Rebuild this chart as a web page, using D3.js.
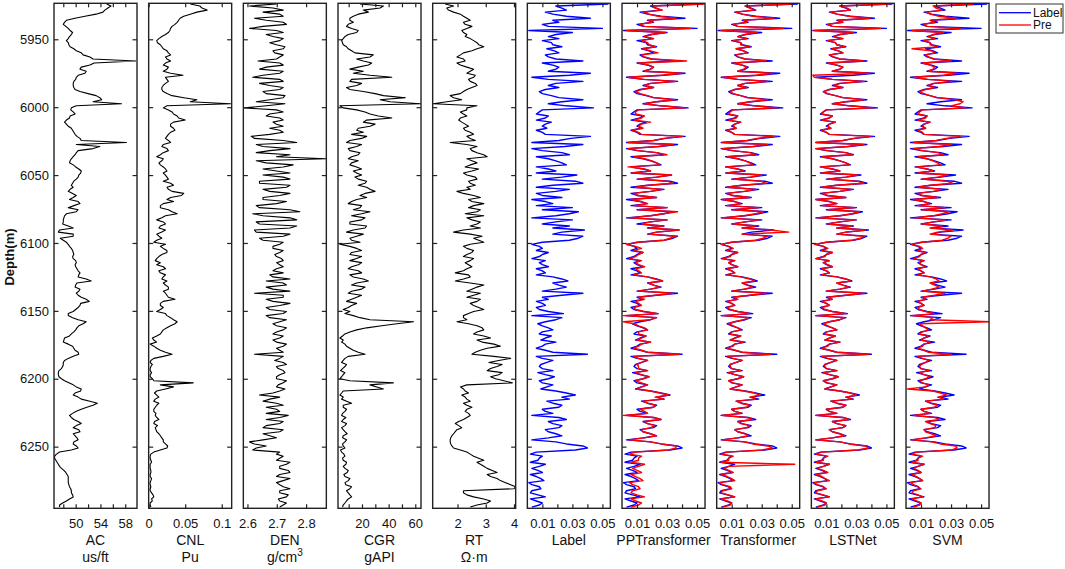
<!DOCTYPE html>
<html lang="en">
<head>
<meta charset="UTF-8">
<title>Well logs and predictions</title>
<script src="https://d3js.org/d3.v7.min.js"></script>
<style>
  body { margin: 0; background: #fff; }
  svg { font-family: "Liberation Sans", Arial, sans-serif; }
</style>
</head>
<body>
<div id="chart"></div>
<script>
// sampled depths (m), 1.5 m apart
const depth = [
  5924,5925.5,5927,5928.5,5930,5931.5,5933,5934.5,5936,5937.5,
  5939,5940.5,5942,5943.5,5945,5946.5,5948,5949.5,5951,5952.5,
  5954,5955.5,5957,5958.5,5960,5961.5,5963,5964.5,5966,5967.5,
  5969,5970.5,5972,5973.5,5975,5976.5,5978,5979.5,5981,5982.5,
  5984,5985.5,5987,5988.5,5990,5991.5,5993,5994.5,5996,5997.5,
  5999,6000.5,6002,6003.5,6005,6006.5,6008,6009.5,6011,6012.5,
  6014,6015.5,6017,6018.5,6020,6021.5,6023,6024.5,6026,6027.5,
  6029,6030.5,6032,6033.5,6035,6036.5,6038,6039.5,6041,6042.5,
  6044,6045.5,6047,6048.5,6050,6051.5,6053,6054.5,6056,6057.5,
  6059,6060.5,6062,6063.5,6065,6066.5,6068,6069.5,6071,6072.5,
  6074,6075.5,6077,6078.5,6080,6081.5,6083,6084.5,6086,6087.5,
  6089,6090.5,6092,6093.5,6095,6096.5,6098,6099.5,6101,6102.5,
  6104,6105.5,6107,6108.5,6110,6111.5,6113,6114.5,6116,6117.5,
  6119,6120.5,6122,6123.5,6125,6126.5,6128,6129.5,6131,6132.5,
  6134,6135.5,6137,6138.5,6140,6141.5,6143,6144.5,6146,6147.5,
  6149,6150.5,6152,6153.5,6155,6156.5,6158,6159.5,6161,6162.5,
  6164,6165.5,6167,6168.5,6170,6171.5,6173,6174.5,6176,6177.5,
  6179,6180.5,6182,6183.5,6185,6186.5,6188,6189.5,6191,6192.5,
  6194,6195.5,6197,6198.5,6200,6201.5,6203,6204.5,6206,6207.5,
  6209,6210.5,6212,6213.5,6215,6216.5,6218,6219.5,6221,6222.5,
  6224,6225.5,6227,6228.5,6230,6231.5,6233,6234.5,6236,6237.5,
  6239,6240.5,6242,6243.5,6245,6246.5,6248,6249.5,6251,6252.5,
  6254,6255.5,6257,6258.5,6260,6261.5,6263,6264.5,6266,6267.5,
  6269,6270.5,6272,6273.5,6275,6276.5,6278,6279.5,6281,6282.5,
  6284,6285.5,6287,6288.5,6290,6291.5,6293,6294.5];

const acVals = [
  55.0,55.7,55.2,54.7,54.4,53.3,51.5,49.9,48.5,48.2,
  48.0,48.4,48.8,49.1,49.5,49.3,49.0,48.8,48.5,48.8,
  48.9,49.1,49.7,50.1,50.9,51.2,52.3,52.8,59.7,53.0,
  52.3,50.9,50.7,51.7,51.5,50.4,50.1,50.0,49.7,49.6,
  49.6,49.7,49.9,50.7,52.0,53.3,53.9,54.2,52.8,57.4,
  50.1,49.3,49.2,49.6,49.9,49.1,49.0,48.5,48.2,48.5,
  48.8,49.3,49.5,49.7,49.9,50.2,50.7,50.9,58.2,50.1,
  53.9,52.8,50.4,50.1,49.9,49.6,49.3,49.1,49.0,49.6,
  50.0,50.5,50.9,50.8,50.5,50.4,50.1,49.7,49.5,49.3,
  49.6,49.1,48.8,49.5,50.1,49.6,49.0,50.4,50.7,49.7,
  48.8,50.4,50.1,48.5,48.2,48.1,48.0,48.0,47.9,48.8,
  49.6,47.4,47.2,49.6,49.6,47.5,48.0,48.5,48.8,49.0,
  49.3,49.5,49.6,49.7,49.5,49.6,50.0,50.1,49.9,50.0,
  50.2,50.4,50.7,50.5,50.4,51.7,52.5,50.2,50.0,49.9,
  50.7,50.5,50.1,50.4,50.9,51.7,52.2,50.8,50.7,50.4,
  50.0,49.6,48.8,48.8,49.5,50.4,51.7,51.2,50.5,50.2,
  50.0,49.7,49.3,49.0,48.2,48.1,48.0,48.8,49.5,49.7,
  49.9,50.4,50.5,49.6,48.8,48.2,48.0,48.0,47.9,47.7,
  47.3,47.2,47.2,47.3,47.7,48.2,48.9,49.6,50.1,50.9,
  50.8,49.9,49.6,50.4,50.9,52.3,53.5,52.8,51.8,50.9,
  50.1,49.5,49.0,49.3,49.7,50.4,50.9,50.1,49.6,50.5,
  50.7,49.6,49.9,50.2,50.4,49.7,49.6,50.1,50.4,49.3,
  47.4,46.9,46.6,46.6,46.8,47.0,47.2,47.4,47.7,48.1,
  48.4,48.6,48.8,48.8,48.8,48.8,48.9,49.0,49.2,49.3,
  49.3,49.5,49.6,49.0,48.5,47.9,47.4,47.4];

const cnlVals = [
  0.057,0.070,0.073,0.080,0.066,0.057,0.048,0.043,0.041,0.039,
  0.036,0.032,0.030,0.029,0.027,0.023,0.018,0.014,0.011,0.012,
  0.016,0.018,0.020,0.025,0.027,0.030,0.023,0.025,0.030,0.023,
  0.020,0.027,0.025,0.020,0.030,0.047,0.023,0.025,0.027,0.023,
  0.020,0.018,0.018,0.020,0.025,0.032,0.048,0.066,0.057,0.112,
  0.025,0.020,0.027,0.032,0.034,0.039,0.041,0.050,0.034,0.030,
  0.030,0.034,0.036,0.030,0.027,0.025,0.023,0.027,0.030,0.020,
  0.018,0.025,0.027,0.020,0.016,0.011,0.020,0.018,0.014,0.016,
  0.020,0.023,0.025,0.020,0.023,0.025,0.027,0.020,0.030,0.034,
  0.025,0.027,0.032,0.048,0.045,0.030,0.025,0.034,0.020,0.016,
  0.016,0.027,0.032,0.039,0.023,0.018,0.011,0.020,0.023,0.016,
  0.014,0.023,0.018,0.011,0.014,0.018,0.011,0.007,0.023,0.016,
  0.020,0.025,0.025,0.018,0.014,0.011,0.009,0.016,0.011,0.020,
  0.023,0.014,0.016,0.023,0.020,0.018,0.025,0.020,0.023,0.027,
  0.027,0.020,0.023,0.025,0.027,0.036,0.020,0.016,0.016,0.020,
  0.016,0.011,0.023,0.025,0.030,0.034,0.039,0.036,0.030,0.025,
  0.020,0.018,0.016,0.011,0.005,0.007,0.011,0.002,0.007,0.011,
  0.016,0.023,0.032,0.020,0.007,0.003,0.002,0.005,0.003,0.002,
  0.002,0.004,0.002,0.002,0.005,0.007,0.061,0.016,0.034,0.023,
  0.011,0.008,0.011,0.014,0.009,0.007,0.014,0.011,0.009,0.007,
  0.007,0.010,0.009,0.011,0.014,0.008,0.007,0.012,0.009,0.010,
  0.011,0.014,0.016,0.018,0.020,0.020,0.023,0.026,0.025,0.016,
  0.007,0.003,0.002,0.002,0.003,0.004,0.002,0.002,0.002,0.003,
  0.003,0.002,0.002,0.004,0.003,0.002,0.002,0.003,0.002,0.002,
  0.004,0.006,0.007,0.004,0.005,0.002,0.002,0.003];

const denVals = [
  2.699,2.607,2.687,2.722,2.653,2.710,2.722,2.624,2.664,2.722,
  2.733,2.653,2.607,2.699,2.722,2.664,2.687,2.722,2.710,2.676,
  2.699,2.728,2.722,2.687,2.693,2.722,2.710,2.699,2.636,2.710,
  2.722,2.664,2.641,2.722,2.710,2.653,2.618,2.710,2.722,2.641,
  2.676,2.722,2.710,2.653,2.664,2.728,2.722,2.676,2.630,2.728,
  2.664,2.590,2.699,2.722,2.676,2.664,2.710,2.722,2.687,2.699,
  2.722,2.676,2.710,2.722,2.676,2.613,2.624,2.722,2.768,2.630,
  2.653,2.745,2.676,2.630,2.745,2.699,2.868,2.630,2.664,2.756,
  2.722,2.653,2.699,2.745,2.653,2.722,2.745,2.641,2.641,2.745,
  2.733,2.653,2.676,2.745,2.710,2.653,2.653,2.733,2.699,2.630,
  2.641,2.745,2.779,2.618,2.653,2.745,2.768,2.630,2.641,2.768,
  2.745,2.624,2.630,2.745,2.722,2.641,2.653,2.722,2.710,2.687,
  2.687,2.722,2.710,2.693,2.699,2.716,2.722,2.699,2.710,2.722,
  2.699,2.687,2.722,2.676,2.687,2.745,2.664,2.722,2.733,2.664,
  2.687,2.745,2.624,2.722,2.722,2.664,2.687,2.745,2.710,2.664,
  2.676,2.733,2.722,2.664,2.676,2.733,2.710,2.687,2.699,2.733,
  2.722,2.699,2.687,2.722,2.710,2.687,2.699,2.733,2.722,2.699,
  2.710,2.722,2.624,2.722,2.710,2.693,2.722,2.733,2.699,2.705,
  2.722,2.728,2.710,2.699,2.699,2.733,2.722,2.705,2.699,2.728,
  2.710,2.687,2.641,2.710,2.676,2.653,2.699,2.722,2.664,2.699,
  2.710,2.664,2.739,2.710,2.664,2.722,2.710,2.664,2.653,2.722,
  2.710,2.653,2.676,2.699,2.653,2.607,2.624,2.664,2.630,2.618,
  2.710,2.699,2.722,2.710,2.699,2.745,2.733,2.710,2.710,2.739,
  2.745,2.710,2.699,2.745,2.722,2.699,2.710,2.722,2.745,2.710,
  2.710,2.739,2.733,2.705,2.710,2.733,2.722,2.710];

const cgrVals = [
  18.5,36.1,33.6,21.0,24.8,17.2,13.5,10.9,10.9,13.5,
  9.7,8.4,12.2,17.2,16.0,9.7,7.2,5.9,4.7,5.4,
  5.9,8.4,9.7,12.2,14.7,28.5,26.0,16.0,21.0,27.3,
  24.8,17.2,10.9,21.0,13.5,26.0,42.4,12.2,10.9,19.7,
  16.0,8.4,10.9,21.0,29.8,36.1,52.5,33.6,41.1,64.0,
  3.4,5.9,16.0,22.3,26.0,32.3,42.4,23.5,21.0,29.8,
  26.0,17.2,16.0,21.0,12.2,23.5,19.7,10.9,8.4,19.7,
  16.0,9.7,10.9,18.5,17.2,12.2,9.7,17.2,12.2,10.9,
  16.0,19.7,13.5,16.0,19.7,14.7,17.2,23.5,22.3,17.2,
  23.5,26.0,29.8,22.3,18.5,23.5,16.0,12.2,9.7,19.7,
  18.5,13.5,26.0,19.7,12.2,22.3,19.7,10.9,10.9,23.5,
  22.3,13.5,8.4,21.0,16.0,10.9,12.2,18.5,3.4,10.9,
  16.0,19.7,12.2,10.9,19.7,16.0,10.9,19.7,17.2,12.2,
  9.7,17.2,19.7,10.9,13.5,21.0,24.8,16.0,12.2,22.3,
  19.7,12.2,9.7,19.7,16.0,12.2,8.4,16.0,12.2,9.7,
  5.9,10.9,7.2,13.5,18.5,26.0,58.7,46.2,34.8,23.5,
  16.0,10.9,7.2,5.4,3.4,5.9,4.7,7.2,8.4,10.9,
  13.5,17.2,22.3,9.7,7.2,5.9,4.7,8.4,7.2,5.4,
  3.9,7.2,5.9,4.7,3.4,10.9,43.6,26.0,31.1,36.1,
  5.9,4.7,3.4,5.9,4.7,8.4,12.2,5.9,5.9,8.4,
  7.2,5.4,4.7,7.9,5.9,4.7,8.4,7.2,4.7,5.9,
  7.2,8.9,5.9,5.4,8.4,7.2,5.4,5.9,7.2,3.9,
  4.7,6.4,7.2,5.4,5.9,8.4,7.9,5.9,7.2,9.7,
  8.9,6.4,7.2,10.9,9.7,7.2,7.9,12.2,10.9,8.4,
  9.7,10.9,12.2,9.7,8.4,7.2,5.9,5.4];

const rtVals = [
  1.56,1.86,1.62,1.68,1.86,2.10,2.21,2.33,2.45,2.21,
  2.27,2.51,2.33,2.15,2.21,2.33,2.27,2.45,2.57,2.69,
  2.75,2.93,2.69,2.51,2.21,2.10,1.98,2.21,2.27,1.98,
  2.10,2.33,2.57,2.45,2.33,2.63,2.57,2.39,2.45,2.63,
  2.69,2.51,2.33,2.21,2.10,1.74,1.86,2.15,1.62,1.14,
  2.69,2.33,2.33,2.10,2.21,2.33,2.10,2.04,2.15,2.27,
  2.39,2.21,2.27,2.45,2.57,2.33,2.45,2.63,1.74,2.33,
  2.69,2.45,2.51,2.69,2.93,3.05,2.33,2.51,2.69,2.45,
  2.27,2.75,2.51,2.21,2.33,2.63,2.69,2.39,2.45,2.63,
  2.33,2.45,1.98,2.21,2.57,2.81,2.39,2.51,2.93,2.57,
  2.39,2.81,2.69,2.27,2.93,2.33,2.51,2.81,2.69,2.45,
  2.81,2.21,1.86,2.45,2.87,2.57,2.75,2.93,2.45,2.21,
  2.33,2.57,2.51,2.33,2.21,2.57,2.45,2.27,2.39,2.51,
  2.33,2.21,1.92,2.39,2.45,2.21,1.92,2.45,2.93,2.69,
  2.51,2.33,2.81,2.57,2.33,2.81,2.69,2.45,2.57,2.75,
  2.93,2.57,2.39,2.21,2.21,2.33,1.98,2.39,2.69,2.87,
  2.93,2.69,2.57,2.93,3.17,2.69,2.87,3.29,3.52,3.05,
  2.81,2.63,2.51,3.29,3.88,3.46,3.11,3.58,3.40,3.17,
  3.05,3.58,3.46,3.17,3.35,3.64,3.94,2.33,2.10,2.21,
  2.27,2.39,2.15,2.27,2.33,2.45,2.21,2.33,2.51,2.33,
  2.27,2.39,2.45,2.33,2.21,2.04,1.92,2.04,2.15,1.98,
  1.92,1.86,1.80,1.76,1.74,1.74,1.76,1.80,1.86,2.10,
  2.33,2.45,2.57,2.75,2.93,2.69,2.81,2.93,3.05,3.23,
  3.40,3.05,3.17,3.40,3.52,3.70,3.88,4.06,4.00,2.21,
  2.21,2.33,2.57,2.93,3.17,3.05,2.69,2.45];

// target curve (Label) and model predictions (Pre)
const labelVals = [
  0.054,0.019,0.023,0.026,0.012,0.017,0.026,0.042,0.017,0.021,
  0.010,0.014,0.050,0.001,0.030,0.019,0.014,0.021,0.010,0.016,
  0.017,0.023,0.013,0.018,0.021,0.012,0.014,0.019,0.037,0.010,
  0.017,0.021,0.019,0.014,0.042,0.028,0.003,0.014,0.037,0.019,
  0.014,0.021,0.012,0.008,0.010,0.016,0.021,0.037,0.023,0.014,
  0.026,0.044,0.010,0.008,0.006,0.014,0.012,0.006,0.016,0.012,
  0.010,0.013,0.006,0.010,0.012,0.042,0.029,0.021,0.003,0.037,
  0.025,0.003,0.010,0.023,0.028,0.006,0.014,0.019,0.023,0.026,
  0.006,0.014,0.019,0.006,0.033,0.023,0.010,0.032,0.037,0.017,
  0.006,0.028,0.019,0.006,0.010,0.023,0.003,0.012,0.017,0.006,
  0.030,0.010,0.034,0.028,0.019,0.003,0.030,0.019,0.010,0.028,
  0.017,0.038,0.023,0.017,0.037,0.034,0.028,0.010,0.003,0.008,
  0.010,0.006,0.014,0.010,0.008,0.003,0.012,0.008,0.010,0.014,
  0.006,0.010,0.012,0.006,0.017,0.023,0.027,0.017,0.021,0.026,
  0.019,0.010,0.037,0.023,0.010,0.014,0.006,0.010,0.012,0.006,
  0.008,0.014,0.024,0.003,0.023,0.019,0.012,0.007,0.010,0.014,
  0.017,0.010,0.008,0.016,0.012,0.009,0.019,0.012,0.010,0.006,
  0.012,0.017,0.040,0.006,0.010,0.017,0.013,0.009,0.008,0.010,
  0.017,0.007,0.012,0.018,0.014,0.008,0.010,0.017,0.013,0.009,
  0.019,0.026,0.032,0.023,0.028,0.013,0.017,0.023,0.021,0.010,
  0.012,0.017,0.003,0.021,0.026,0.014,0.017,0.023,0.021,0.012,
  0.014,0.019,0.023,0.014,0.003,0.019,0.026,0.037,0.040,0.032,
  0.006,0.002,0.010,0.008,0.007,0.002,0.012,0.008,0.003,0.007,
  0.010,0.002,0.006,0.009,0.011,0.001,0.003,0.008,0.009,0.003,
  0.002,0.007,0.012,0.002,0.006,0.010,0.008,0.003];

const ppTransformerVals = [
  0.055,0.020,0.022,0.027,0.015,0.018,0.024,0.036,0.018,0.020,
  0.012,0.015,0.046,0.003,0.029,0.020,0.015,0.021,0.013,0.017,
  0.018,0.022,0.014,0.019,0.024,0.013,0.015,0.020,0.043,0.011,
  0.018,0.021,0.019,0.015,0.040,0.026,0.004,0.015,0.036,0.019,
  0.015,0.021,0.013,0.009,0.012,0.017,0.021,0.035,0.023,0.015,
  0.026,0.042,0.011,0.009,0.009,0.015,0.013,0.008,0.019,0.013,
  0.011,0.014,0.007,0.011,0.013,0.040,0.028,0.021,0.004,0.034,
  0.024,0.004,0.011,0.023,0.030,0.008,0.015,0.020,0.023,0.025,
  0.004,0.015,0.019,0.007,0.033,0.023,0.011,0.030,0.034,0.018,
  0.009,0.027,0.019,0.008,0.011,0.023,0.006,0.013,0.017,0.008,
  0.030,0.011,0.037,0.027,0.019,0.005,0.030,0.019,0.013,0.027,
  0.018,0.038,0.023,0.018,0.036,0.032,0.028,0.011,0.003,0.009,
  0.013,0.008,0.014,0.011,0.009,0.005,0.013,0.009,0.011,0.015,
  0.009,0.011,0.013,0.008,0.017,0.022,0.027,0.018,0.021,0.025,
  0.019,0.011,0.034,0.022,0.011,0.015,0.009,0.011,0.013,0.008,
  0.009,0.015,0.024,0.001,0.023,0.019,0.001,0.008,0.011,0.015,
  0.017,0.011,0.011,0.016,0.013,0.010,0.019,0.013,0.011,0.008,
  0.013,0.017,0.038,0.008,0.011,0.017,0.013,0.010,0.011,0.011,
  0.017,0.009,0.013,0.018,0.014,0.009,0.013,0.017,0.013,0.010,
  0.019,0.025,0.031,0.022,0.028,0.014,0.017,0.022,0.021,0.012,
  0.015,0.017,0.001,0.021,0.026,0.015,0.017,0.022,0.019,0.013,
  0.014,0.019,0.023,0.015,0.005,0.019,0.026,0.036,0.036,0.031,
  0.009,0.005,0.013,0.011,0.011,0.006,0.015,0.011,0.007,0.010,
  0.013,0.006,0.009,0.012,0.014,0.005,0.007,0.011,0.012,0.007,
  0.006,0.010,0.015,0.006,0.009,0.013,0.011,0.006];

const transformerVals = [
  0.050,0.019,0.022,0.025,0.013,0.017,0.024,0.038,0.018,0.020,
  0.011,0.014,0.044,0.003,0.027,0.019,0.014,0.020,0.011,0.016,
  0.016,0.022,0.013,0.018,0.020,0.013,0.014,0.019,0.033,0.011,
  0.017,0.020,0.018,0.014,0.037,0.026,0.004,0.014,0.034,0.019,
  0.014,0.020,0.012,0.009,0.011,0.016,0.020,0.034,0.022,0.014,
  0.025,0.040,0.011,0.009,0.008,0.014,0.013,0.008,0.016,0.012,
  0.011,0.013,0.007,0.010,0.012,0.038,0.027,0.020,0.004,0.034,
  0.024,0.004,0.011,0.022,0.026,0.007,0.014,0.019,0.022,0.024,
  0.006,0.014,0.018,0.007,0.030,0.022,0.011,0.029,0.033,0.017,
  0.007,0.026,0.018,0.007,0.011,0.022,0.004,0.012,0.016,0.007,
  0.028,0.011,0.031,0.026,0.018,0.004,0.028,0.019,0.011,0.026,
  0.017,0.036,0.048,0.017,0.034,0.031,0.026,0.010,0.003,0.008,
  0.011,0.007,0.014,0.010,0.009,0.004,0.012,0.008,0.010,0.014,
  0.007,0.010,0.012,0.007,0.016,0.022,0.025,0.017,0.020,0.024,
  0.018,0.010,0.033,0.022,0.011,0.014,0.007,0.010,0.012,0.007,
  0.009,0.014,0.022,0.004,0.021,0.018,0.012,0.008,0.011,0.014,
  0.016,0.010,0.009,0.016,0.012,0.009,0.018,0.012,0.011,0.007,
  0.012,0.017,0.036,0.007,0.011,0.017,0.013,0.009,0.009,0.010,
  0.016,0.008,0.012,0.018,0.014,0.008,0.011,0.017,0.013,0.009,
  0.018,0.025,0.029,0.022,0.026,0.013,0.016,0.022,0.020,0.010,
  0.012,0.017,0.003,0.020,0.024,0.014,0.016,0.022,0.020,0.012,
  0.014,0.019,0.021,0.014,0.004,0.018,0.024,0.034,0.037,0.030,
  0.007,0.003,0.011,0.008,0.008,0.003,0.052,0.008,0.005,0.008,
  0.011,0.003,0.007,0.010,0.012,0.002,0.004,0.009,0.010,0.004,
  0.003,0.008,0.012,0.003,0.007,0.010,0.009,0.004];

const lstnetVals = [
  0.052,0.019,0.024,0.026,0.013,0.017,0.025,0.039,0.018,0.021,
  0.011,0.014,0.046,0.002,0.028,0.019,0.015,0.021,0.011,0.016,
  0.017,0.022,0.014,0.018,0.021,0.012,0.015,0.019,0.035,0.011,
  0.017,0.021,0.019,0.014,0.039,0.001,0.002,0.014,0.035,0.019,
  0.015,0.021,0.012,0.008,0.011,0.016,0.021,0.035,0.023,0.014,
  0.025,0.041,0.010,0.008,0.007,0.014,0.012,0.007,0.016,0.012,
  0.011,0.013,0.007,0.010,0.012,0.039,0.028,0.021,0.003,0.035,
  0.024,0.003,0.011,0.023,0.027,0.007,0.014,0.019,0.023,0.025,
  0.006,0.014,0.019,0.007,0.031,0.023,0.011,0.030,0.035,0.017,
  0.007,0.027,0.019,0.007,0.011,0.023,0.003,0.012,0.017,0.007,
  0.029,0.011,0.032,0.027,0.019,0.004,0.029,0.019,0.011,0.027,
  0.017,0.036,0.023,0.017,0.035,0.033,0.027,0.010,0.002,0.008,
  0.011,0.007,0.014,0.010,0.009,0.003,0.012,0.008,0.011,0.014,
  0.007,0.010,0.012,0.007,0.017,0.023,0.026,0.017,0.021,0.025,
  0.019,0.010,0.035,0.023,0.011,0.014,0.007,0.010,0.012,0.007,
  0.009,0.014,0.023,0.003,0.022,0.019,0.012,0.008,0.011,0.014,
  0.017,0.010,0.009,0.016,0.012,0.009,0.019,0.012,0.011,0.007,
  0.012,0.017,0.038,0.007,0.011,0.017,0.013,0.009,0.009,0.010,
  0.017,0.008,0.012,0.018,0.014,0.008,0.011,0.017,0.013,0.009,
  0.019,0.026,0.030,0.023,0.027,0.013,0.017,0.023,0.021,0.010,
  0.012,0.017,0.003,0.021,0.025,0.014,0.017,0.023,0.021,0.012,
  0.014,0.019,0.022,0.014,0.003,0.019,0.025,0.036,0.038,0.031,
  0.007,0.003,0.011,0.008,0.008,0.003,0.012,0.008,0.004,0.008,
  0.011,0.003,0.007,0.009,0.012,0.002,0.004,0.008,0.010,0.004,
  0.003,0.008,0.012,0.003,0.007,0.010,0.009,0.004];

const svmVals = [
  0.045,0.018,0.020,0.024,0.014,0.016,0.022,0.033,0.016,0.019,
  0.012,0.014,0.036,0.004,0.025,0.018,0.015,0.019,0.012,0.016,
  0.016,0.021,0.004,0.017,0.019,0.013,0.015,0.018,0.030,0.011,
  0.016,0.019,0.018,0.015,0.034,0.025,0.005,0.015,0.031,0.018,
  0.015,0.019,0.013,0.009,0.012,0.016,0.020,0.033,0.038,0.036,
  0.030,0.040,0.011,0.009,0.008,0.014,0.013,0.008,0.016,0.012,
  0.011,0.013,0.008,0.011,0.012,0.036,0.027,0.020,0.005,0.030,
  0.022,0.005,0.011,0.021,0.025,0.008,0.014,0.018,0.021,0.023,
  0.007,0.014,0.018,0.008,0.028,0.021,0.011,0.027,0.031,0.016,
  0.008,0.024,0.018,0.008,0.011,0.021,0.005,0.012,0.016,0.008,
  0.026,0.011,0.029,0.024,0.018,0.006,0.026,0.018,0.011,0.024,
  0.016,0.031,0.021,0.016,0.030,0.028,0.024,0.011,0.004,0.009,
  0.011,0.008,0.013,0.010,0.009,0.005,0.012,0.009,0.010,0.013,
  0.008,0.010,0.012,0.008,0.016,0.020,0.022,0.016,0.019,0.022,
  0.017,0.011,0.026,0.019,0.011,0.013,0.008,0.010,0.012,0.008,
  0.009,0.013,0.019,0.004,0.018,0.016,0.056,0.009,0.011,0.013,
  0.015,0.011,0.009,0.015,0.012,0.010,0.016,0.012,0.011,0.008,
  0.012,0.015,0.030,0.008,0.011,0.015,0.013,0.010,0.009,0.010,
  0.015,0.009,0.012,0.016,0.013,0.009,0.011,0.015,0.013,0.001,
  0.018,0.023,0.027,0.021,0.025,0.013,0.016,0.021,0.019,0.010,
  0.012,0.016,0.005,0.019,0.022,0.013,0.016,0.020,0.019,0.012,
  0.013,0.017,0.020,0.013,0.004,0.017,0.023,0.033,0.034,0.030,
  0.007,0.004,0.011,0.008,0.008,0.004,0.012,0.008,0.005,0.008,
  0.010,0.004,0.007,0.009,0.011,0.003,0.005,0.008,0.010,0.005,
  0.004,0.008,0.011,0.004,0.007,0.010,0.009,0.005];

const depthTicks = [5950, 6000, 6050, 6100, 6150, 6200, 6250];
const depthDomain = [5923.5, 6295.4];
const pctTicks = [0.01, 0.02, 0.03, 0.04, 0.05];
const pctLabels = [0.01, 0.03, 0.05];

const tracks = [
  { name: "AC",  unit: "us/ft", values: acVals,  domain: [46.5, 59.9], ticks: [48, 50, 52, 54, 56, 58], labels: [50, 54, 58] },
  { name: "CNL", unit: "Pu",    values: cnlVals, domain: [0, 0.1136], ticks: [0, 0.05, 0.1], labels: [0, 0.05, 0.1] },
  { name: "DEN", unit: "g/cm3", values: denVals, domain: [2.586, 2.869], ticks: [2.6, 2.7, 2.8], labels: [2.6, 2.7, 2.8] },
  { name: "CGR", unit: "gAPI",  values: cgrVals, domain: [2, 64.3], ticks: [10, 20, 30, 40, 50, 60], labels: [20, 40, 60] },
  { name: "RT",  unit: "Ω·m",   values: rtVals,  domain: [1.12, 4.06], ticks: [2, 3, 4], labels: [2, 3, 4] },
  { name: "Label",         values: labelVals, pred: null,              domain: [0, 0.0553], ticks: pctTicks, labels: pctLabels },
  { name: "PPTransformer", values: labelVals, pred: ppTransformerVals, domain: [0, 0.0553], ticks: pctTicks, labels: pctLabels },
  { name: "Transformer",   values: labelVals, pred: transformerVals,   domain: [0, 0.0553], ticks: pctTicks, labels: pctLabels },
  { name: "LSTNet",        values: labelVals, pred: lstnetVals,        domain: [0, 0.0553], ticks: pctTicks, labels: pctLabels },
  { name: "SVM",           values: labelVals, pred: svmVals,           domain: [0, 0.0553], ticks: pctTicks, labels: pctLabels }
];

const W = 1065, H = 569;
const plotTop = 3.3, plotBottom = 508.3;
const firstLeft = 54, step = 94.67, panelW = 83;
const blue = "#0000ff", red = "#ff0000";

const svg = d3.select("#chart").append("svg")
  .attr("width", W).attr("height", H);

const y = d3.scaleLinear().domain(depthDomain).range([plotTop, plotBottom]);

tracks.forEach((t, i) => {
  const x0 = firstLeft + i * step;
  const x = d3.scaleLinear().domain(t.domain).range([x0, x0 + panelW]);
  const g = svg.append("g");

  const clipId = "clip" + i;
  svg.append("clipPath").attr("id", clipId)
    .append("rect").attr("x", x0).attr("y", plotTop).attr("width", panelW).attr("height", plotBottom - plotTop);

  const rows = depth.map((d, k) => ({ d: d, v: t.values[k], p: t.pred ? t.pred[k] : null }));
  const line = d3.line().defined(r => r.v != null).x(r => x(r.v)).y(r => y(r.d));

  const isLog = i < 5;
  g.append("path").datum(rows)
    .attr("clip-path", `url(#${clipId})`)
    .attr("fill", "none")
    .attr("stroke", isLog ? "#000" : blue)
    .attr("stroke-width", isLog ? 1.1 : 1.4)
    .attr("stroke-linejoin", "round")
    .attr("d", line);

  if (t.pred) {
    g.append("path").datum(rows)
      .attr("clip-path", `url(#${clipId})`)
      .attr("fill", "none")
      .attr("stroke", red)
      .attr("stroke-width", 1.4)
      .attr("stroke-linejoin", "round")
      .attr("d", d3.line().defined(r => r.p != null).x(r => x(r.p)).y(r => y(r.d)));
  }

  // inward x ticks, bottom with labels and top without
  const fmt = d => t.labels.includes(d) ? String(d) : "";
  const xb = g.append("g")
    .attr("transform", `translate(0,${plotBottom})`)
    .call(d3.axisBottom(x).tickValues(t.ticks).tickSize(-4).tickPadding(10.5).tickFormat(fmt));
  const xt = g.append("g")
    .attr("transform", `translate(0,${plotTop})`)
    .call(d3.axisTop(x).tickValues(t.ticks).tickSize(-4).tickFormat(""));
  [xb, xt].forEach(a => {
    a.select(".domain").remove();
    a.selectAll(".tick line").attr("stroke", "#222").attr("stroke-width", 1.2);
  });
  xb.selectAll(".tick text").attr("font-size", 13).attr("fill", "#111")
    .attr("font-family", "Liberation Sans, Arial, sans-serif");

  // inward depth ticks on both sides
  const yl = g.append("g").attr("transform", `translate(${x0},0)`)
    .call(d3.axisLeft(y).tickValues(depthTicks).tickSize(-4.5).tickFormat(i === 0 ? d3.format("d") : ""));
  const yr = g.append("g").attr("transform", `translate(${x0 + panelW},0)`)
    .call(d3.axisRight(y).tickValues(depthTicks).tickSize(-4.5).tickFormat(""));
  [yl, yr].forEach(a => {
    a.select(".domain").remove();
    a.selectAll(".tick line").attr("stroke", "#222").attr("stroke-width", 1.2);
  });
  if (i === 0) {
    yl.selectAll(".tick text").attr("x", -5).attr("font-size", 13).attr("fill", "#111")
      .attr("font-family", "Liberation Sans, Arial, sans-serif");
  }

  g.append("rect")
    .attr("x", x0).attr("y", plotTop).attr("width", panelW).attr("height", plotBottom - plotTop)
    .attr("fill", "none").attr("stroke", "#222").attr("stroke-width", 1.4);

  const cx = x0 + panelW / 2;
  g.append("text").attr("x", cx).attr("y", 545).attr("text-anchor", "middle")
    .attr("font-size", 14).attr("fill", "#111").text(t.name);

  if (t.unit) {
    const u = g.append("text").attr("x", cx).attr("y", 562).attr("text-anchor", "middle")
      .attr("font-size", 14).attr("fill", "#111");
    if (t.unit === "g/cm3") {
      u.append("tspan").text("g/cm");
      u.append("tspan").attr("dy", -6).attr("font-size", 10).text("3");
    } else {
      u.text(t.unit);
    }
  }
});

svg.append("text")
  .attr("transform", "translate(14,257) rotate(-90)")
  .attr("text-anchor", "middle")
  .attr("font-size", 13).attr("font-weight", "bold").attr("fill", "#111")
  .text("Depth(m)");

// legend
const lg = svg.append("g");
lg.append("rect").attr("x", 996).attr("y", 4).attr("width", 67).attr("height", 29)
  .attr("fill", "#fff").attr("stroke", "#333").attr("stroke-width", 1);
[["Label", blue, 12.7], ["Pre", red, 25]].forEach(([txt, col, ly]) => {
  lg.append("line").attr("x1", 999).attr("x2", 1031).attr("y1", ly).attr("y2", ly)
    .attr("stroke", col).attr("stroke-width", 1.3);
  lg.append("text").attr("x", 1033).attr("y", ly + 4.3)
    .attr("font-size", 12).attr("fill", "#111").text(txt);
});
</script>
</body>
</html>
